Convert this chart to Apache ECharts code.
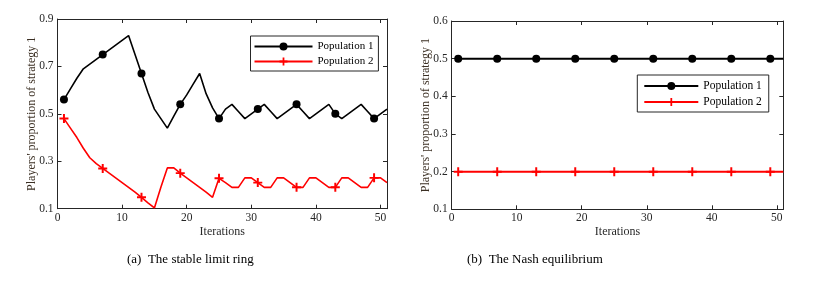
<!DOCTYPE html>
<html>
<head>
<meta charset="utf-8">
<script src="https://cdn.jsdelivr.net/npm/echarts@6/dist/echarts.min.js"></script>
<style>
html,body{margin:0;padding:0;background:#fff;}
#c{width:815px;height:284px;}
</style>
</head>
<body>
<div id="c"></div>
<script>
// ---- data ----
const iterations = [1,2,3,4,5,6,7,8,9,10,11,12,13,14,15,16,17,18,19,20,21,22,23,24,25,26,27,28,29,30,31,32,33,34,35,36,37,38,39,40,41,42,43,44,45,46,47,48,49,50,51];

// (a) stable limit ring
const pop1A = [0.56,0.605,0.65,0.69,0.71,0.73,0.75,0.77,0.79,0.81,0.83,0.75,0.67,0.59,0.52,0.48,0.44,0.49,0.54,0.58,0.625,0.67,0.585,0.525,0.48,0.52,0.54,0.51,0.48,0.50,0.52,0.54,0.51,0.48,0.50,0.52,0.54,0.51,0.48,0.50,0.52,0.54,0.50,0.48,0.50,0.52,0.54,0.51,0.48,0.50,0.52];
const pop2A = [0.48,0.44,0.40,0.355,0.315,0.29,0.27,0.25,0.23,0.21,0.19,0.17,0.148,0.125,0.103,0.19,0.272,0.272,0.25,0.23,0.21,0.19,0.17,0.148,0.228,0.21,0.19,0.19,0.23,0.23,0.21,0.19,0.19,0.23,0.23,0.21,0.19,0.19,0.23,0.23,0.21,0.19,0.19,0.23,0.23,0.21,0.19,0.19,0.23,0.23,0.21];

// (b) Nash equilibrium
const pop1B = [0.5,0.5,0.5,0.5,0.5,0.5,0.5,0.5,0.5,0.5,0.5,0.5,0.5,0.5,0.5,0.5,0.5,0.5,0.5,0.5,0.5,0.5,0.5,0.5,0.5,0.5,0.5,0.5,0.5,0.5,0.5,0.5,0.5,0.5,0.5,0.5,0.5,0.5,0.5,0.5,0.5,0.5,0.5,0.5,0.5,0.5,0.5,0.5,0.5,0.5,0.5];
const pop2B = [0.2,0.2,0.2,0.2,0.2,0.2,0.2,0.2,0.2,0.2,0.2,0.2,0.2,0.2,0.2,0.2,0.2,0.2,0.2,0.2,0.2,0.2,0.2,0.2,0.2,0.2,0.2,0.2,0.2,0.2,0.2,0.2,0.2,0.2,0.2,0.2,0.2,0.2,0.2,0.2,0.2,0.2,0.2,0.2,0.2,0.2,0.2,0.2,0.2,0.2,0.2];

// iterations carrying a marker
const markerIters = [1,7,13,19,25,31,37,43,49];

const seriesNames = ['Population 1','Population 2'];
const xTicksA = [0,10,20,30,40,50];
const yTicksA = [0.1,0.3,0.5,0.7,0.9];
const yTicksB = [0.1,0.2,0.3,0.4,0.5,0.6];
const xName = 'Iterations';
const yName = "Players' proportion of strategy 1";
const captions = ['(a)  The stable limit ring','(b)  The Nash equilibrium'];

// ---- chart ----
const FONT = 'Liberation Serif';
const AX = '#262626';
const plusPath = 'path://M-1.1,-5H1.1V-1.1H5V1.1H1.1V5H-1.1V1.1H-5V-1.1H-1.1Z';

function pairs(ys){ return iterations.map((x,i)=>[x, ys[i]]); }
function symSize(s){ return function(v){ return markerIters.indexOf(v[0]) >= 0 ? s : 0; }; }

function xAx(grid, pos, showLabel){
  return {
    type:'value', gridIndex:grid, position:pos, min:0, max:51, interval:10,
    name: showLabel ? xName : '', nameLocation:'middle', nameGap:17, nameMoveOverlap:false,
    nameTextStyle:{fontFamily:FONT, fontSize:12, color:'#2a2a2a'},
    axisLine:{show:true, onZero:false, lineStyle:{color:AX, width:1}},
    axisTick:{show:true, inside:true, length:4, lineStyle:{color:AX}},
    axisLabel:{show:showLabel, margin:3, fontFamily:FONT, fontSize:11.5, color:AX,
      formatter:function(v){ return xTicksA.indexOf(v) >= 0 ? String(v) : ''; }},
    splitLine:{show:false}
  };
}
function yAx(grid, pos, showLabel, ticks){
  const step = Math.round((ticks[1]-ticks[0])*10)/10;
  return {
    type:'value', gridIndex:grid, position:pos, min:ticks[0], max:ticks[ticks.length-1], interval:step,
    name: showLabel ? yName : '', nameLocation:'middle', nameRotate:90, nameGap:20, nameMoveOverlap:false,
    nameTextStyle:{fontFamily:FONT, fontSize:12, color:'#3b2f23'},
    axisLine:{show:true, onZero:false, lineStyle:{color:AX, width:1}},
    axisTick:{show:true, inside:true, length:4, lineStyle:{color:AX}},
    axisLabel:{show:showLabel, margin:4, fontFamily:FONT, fontSize:11.5, color:AX,
      formatter:function(v){ return v.toFixed(1); }},
    splitLine:{show:false}
  };
}

const chart = echarts.init(document.getElementById('c'), null, {renderer:'canvas'});
chart.setOption({
  animation:false,
  backgroundColor:'#fff',
  title:[
    {text:captions[0], left:127, top:253, padding:0, textStyle:{fontFamily:FONT, fontSize:13, fontWeight:'normal', color:'#000'}},
    {text:captions[1], left:467, top:253, padding:0, textStyle:{fontFamily:FONT, fontSize:13, fontWeight:'normal', color:'#000'}}
  ],
  grid:[
    {left:57.5, top:19, width:329.5, height:189.7, show:false},
    {left:451.7, top:21, width:331.6, height:188.3, show:false}
  ],
  xAxis:[ xAx(0,'bottom',true), xAx(0,'top',false), xAx(1,'bottom',true), xAx(1,'top',false) ],
  yAxis:[ yAx(0,'left',true,yTicksA), yAx(0,'right',false,yTicksA), yAx(1,'left',true,yTicksB), yAx(1,'right',false,yTicksB) ],
  legend:[
    {data:seriesNames, orient:'vertical', left:250.5, top:36, padding:[5,5,4,3], itemWidth:58, itemHeight:10, itemGap:4,
     borderColor:AX, borderWidth:1, backgroundColor:'#fff', selectedMode:false,
     textStyle:{fontFamily:FONT, fontSize:11, color:'#000', padding:[0,0,0,0]}},
    {data:seriesNames, orient:'vertical', left:637.3, top:75, padding:[5,7,4,6], itemWidth:54, itemHeight:10, itemGap:4,
     borderColor:AX, borderWidth:1, backgroundColor:'#fff', selectedMode:false,
     textStyle:{fontFamily:FONT, fontSize:11.5, color:'#000'}}
  ],
  series:[
    {name:seriesNames[0], type:'line', xAxisIndex:0, yAxisIndex:0, data:pairs(pop1A),
     symbol:'circle', symbolSize:symSize(8), showAllSymbol:true,
     lineStyle:{color:'#000', width:1.6}, itemStyle:{color:'#000'}},
    {name:seriesNames[1], type:'line', xAxisIndex:0, yAxisIndex:0, data:pairs(pop2A),
     symbol:plusPath, symbolSize:symSize(9), showAllSymbol:true,
     lineStyle:{color:'#ff0000', width:1.6}, itemStyle:{color:'#ff0000'}},
    {name:seriesNames[0], type:'line', xAxisIndex:2, yAxisIndex:2, data:pairs(pop1B),
     symbol:'circle', symbolSize:symSize(8), showAllSymbol:true,
     lineStyle:{color:'#000', width:2}, itemStyle:{color:'#000'}},
    {name:seriesNames[1], type:'line', xAxisIndex:2, yAxisIndex:2, data:pairs(pop2B),
     symbol:plusPath, symbolSize:symSize(9), showAllSymbol:true,
     lineStyle:{color:'#ff0000', width:2}, itemStyle:{color:'#ff0000'}}
  ]
});
</script>
</body>
</html>
